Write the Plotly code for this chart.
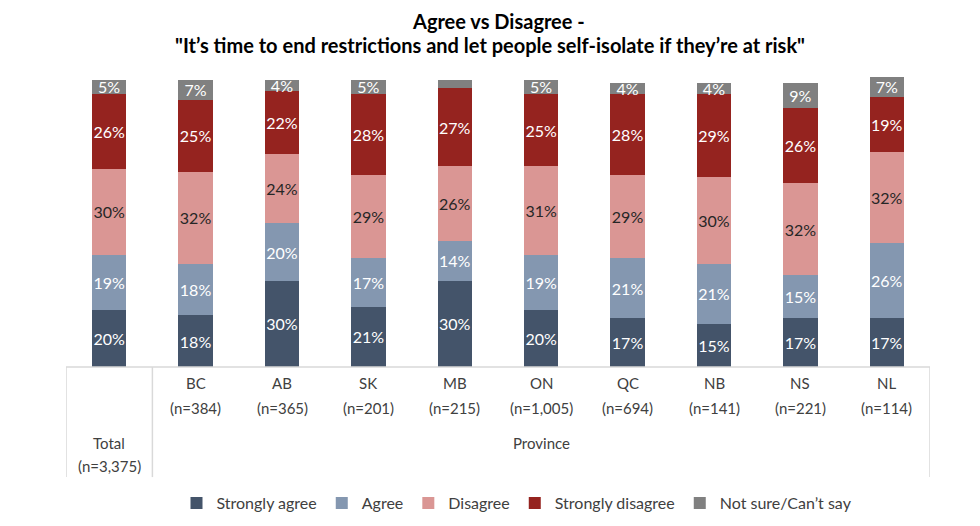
import plotly.graph_objects as go

categories = ["Total", "BC", "AB", "SK", "MB", "ON", "QC", "NB", "NS", "NL"]
sample_sizes = ["(n=3,375)", "(n=384)", "(n=365)", "(n=201)", "(n=215)", "(n=1,005)",
                "(n=694)", "(n=141)", "(n=221)", "(n=114)"]
group_label = "Province"

strongly_agree = [20, 18, 30, 21, 30, 20, 17, 15, 17, 17]
agree = [19, 18, 20, 17, 14, 19, 21, 21, 15, 26]
disagree = [30, 32, 24, 29, 26, 31, 29, 30, 32, 32]
strongly_disagree = [26, 25, 22, 28, 27, 25, 28, 29, 26, 19]
not_sure = [5, 7, 4, 5, 3, 5, 4, 4, 9, 7]
not_sure_labels = ["5%", "7%", "4%", "5%", "", "5%", "4%", "4%", "9%", "7%"]

series = [
    ("Strongly agree", strongly_agree, "#44546A", "#FFFFFF", None),
    ("Agree", agree, "#8497B0", "#FFFFFF", None),
    ("Disagree", disagree, "#DA9694", "#262626", None),
    ("Strongly disagree", strongly_disagree, "#95231F", "#FFFFFF", None),
    ("Not sure/Can’t say", not_sure, "#808080", "#FFFFFF", not_sure_labels),
]

FONT = "Lato"
x_idx = list(range(len(categories)))

fig = go.Figure()
for name, vals, color, tcolor, labels in series:
    txt = labels if labels is not None else [f"{v}%" for v in vals]
    fig.add_trace(go.Bar(
        name=name, x=x_idx, y=vals, text=txt,
        marker=dict(color=color, line=dict(width=0)),
        textposition="inside", insidetextanchor="middle", textangle=0,
        constraintext="none", cliponaxis=False,
        textfont=dict(family=FONT, size=16, color=tcolor),
        hoverinfo="skip",
    ))

# Page geometry (page has an 8px body offset): plot bottom at page y=367,
# 2.87 px per percent, plot x from page 66 to 930.
OFF = 8
PX_PER = 2.87
YMAX = 102
H = PX_PER * YMAX
BOTTOM = 367
TOP = BOTTOM - H

def py(pix):
    return (BOTTOM - pix) / H

annotations = []
lab_color = "#404040"
for i in range(1, len(categories)):
    annotations.append(dict(x=i, y=py(383), xref="x", yref="paper", text=categories[i],
                            showarrow=False, font=dict(family=FONT, size=15, color=lab_color),
                            xanchor="center", yanchor="middle"))
    annotations.append(dict(x=i, y=py(408), xref="x", yref="paper", text=sample_sizes[i],
                            showarrow=False, font=dict(family=FONT, size=15, color=lab_color),
                            xanchor="center", yanchor="middle"))
annotations.append(dict(x=0, y=py(443), xref="x", yref="paper", text=categories[0],
                        showarrow=False, font=dict(family=FONT, size=15, color=lab_color),
                        xanchor="center", yanchor="middle"))
annotations.append(dict(x=0, y=py(466), xref="x", yref="paper", text=sample_sizes[0],
                        showarrow=False, font=dict(family=FONT, size=15, color=lab_color),
                        xanchor="center", yanchor="middle"))
annotations.append(dict(x=5, y=py(443), xref="x", yref="paper", text=group_label,
                        showarrow=False, font=dict(family=FONT, size=15, color=lab_color),
                        xanchor="center", yanchor="middle"))

# title
annotations.append(dict(x=(498 - 66) / 864, y=py(21), xref="paper", yref="paper",
                        text="<b>Agree vs Disagree -</b>", showarrow=False, borderpad=0,
                        font=dict(family=FONT, size=20, color="#000000"),
                        xanchor="center", yanchor="middle"))
annotations.append(dict(x=(490 - 66) / 864, y=py(45), xref="paper", yref="paper",
                        text="<b>\"It’s time to end restrictions and let people self-isolate if they’re at risk\"</b>",
                        showarrow=False, borderpad=0, font=dict(family=FONT, size=20, color="#000000"),
                        xanchor="center", yanchor="middle"))

line_style = dict(color="#D9D9D9", width=1.5)
shapes = [
    dict(type="line", xref="x", yref="paper", x0=-0.5, x1=9.5, y0=0, y1=0, line=line_style),
    dict(type="line", xref="x", yref="paper", x0=-0.5, x1=-0.5, y0=0, y1=py(477), line=line_style),
    dict(type="line", xref="x", yref="paper", x0=0.5, x1=0.5, y0=0, y1=py(477), line=line_style),
    dict(type="line", xref="x", yref="paper", x0=9.5, x1=9.5, y0=0, y1=py(477), line=line_style),
]

t_margin = TOP - OFF
b_margin = 526 - (BOTTOM - OFF)
fig.update_layout(
    width=980, height=526,
    margin=dict(l=66 - OFF, r=980 - (930 - OFF), t=t_margin, b=b_margin, autoexpand=False),
    barmode="stack", bargap=0.6,
    paper_bgcolor="white", plot_bgcolor="white",
    showlegend=True,
    legend=dict(orientation="h", x=(517 - 66) / 864, xanchor="center", y=py(503), yanchor="middle",
                font=dict(family=FONT, size=16, color=lab_color), traceorder="normal",
                itemwidth=30),
    xaxis=dict(range=[-0.5, 9.5], showticklabels=False, showgrid=False, zeroline=False,
               showline=False, ticks=""),
    yaxis=dict(range=[0, YMAX], visible=False),
    annotations=annotations, shapes=shapes,
    font=dict(family=FONT),
)

fig.write_html("out.html")
